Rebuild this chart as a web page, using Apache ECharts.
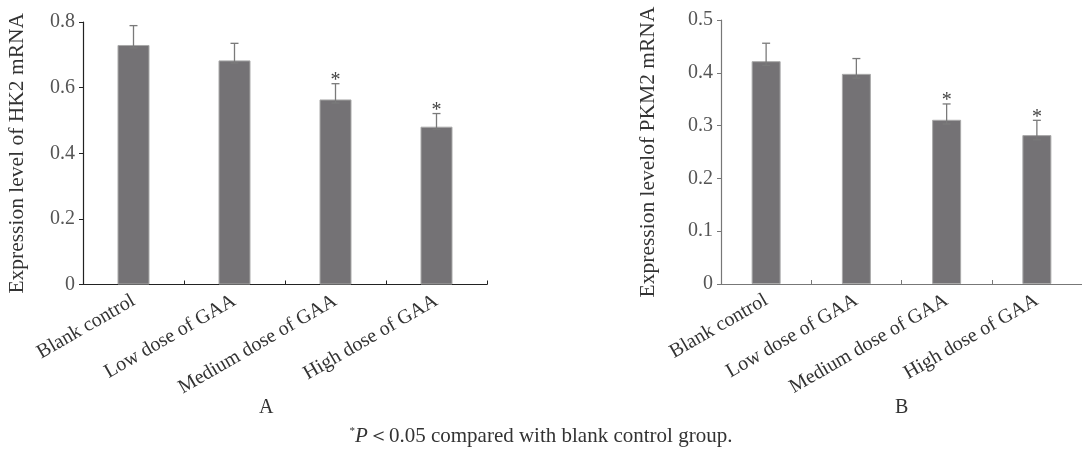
<!DOCTYPE html>
<html>
<head>
<meta charset="utf-8">
<script src="https://cdn.jsdelivr.net/npm/echarts@6/dist/echarts.min.js"></script>
<style>
  html, body { margin: 0; padding: 0; background: #fff; }
  #chart { width: 1082px; height: 454px; }
</style>
</head>
<body>
<div id="chart"></div>
<script>
// groups on the x axis
const groups = ['Blank control', 'Low dose of GAA', 'Medium dose of GAA', 'High dose of GAA']

// panel A, HK2 mRNA
const hk2Mean = [0.730, 0.683, 0.564, 0.481]
const hk2Upper = [0.789, 0.735, 0.612, 0.521]
const hk2Lower = [0.721, 0.675, 0.553, 0.473]

// panel B, PKM2 mRNA
const pkm2Mean = [0.422, 0.398, 0.311, 0.282]
const pkm2Upper = [0.456, 0.427, 0.341, 0.310]
const pkm2Lower = [0.414, 0.390, 0.303, 0.273]

// * marks, P < 0.05 vs blank control
const significant = [false, false, true, true]

const FONT = '"Liberation Serif", "DejaVu Serif", serif'
const BAR_COLOR = '#747275'

const chart = echarts.init(document.getElementById('chart'))

function xAxisFor(gridIndex, lineColor) {
  return {
    type: 'category',
    gridIndex,
    data: groups,
    axisLine: { lineStyle: { color: lineColor, width: 1.2 } },
    axisTick: { show: true, inside: true, length: 4, lineStyle: { color: lineColor } },
    axisLabel: {
      interval: 0,
      rotate: 30,
      margin: 15,
      color: '#333',
      fontFamily: FONT,
      fontSize: 20
    }
  }
}

function yAxisFor(gridIndex, name, max, interval, lineColor, gap) {
  return {
    type: 'value',
    gridIndex,
    min: 0,
    max,
    interval,
    name,
    nameLocation: 'middle',
    nameGap: gap,
    nameTextStyle: { color: '#333', fontFamily: FONT, fontSize: 21.5 },
    axisLine: { show: true, lineStyle: { color: lineColor, width: 1.2 } },
    axisTick: { show: true, length: 4, lineStyle: { color: lineColor } },
    splitLine: { show: false },
    axisLabel: {
      margin: 8,
      color: '#555',
      fontFamily: FONT,
      fontSize: 20,
      formatter: v => (v === 0 ? '0' : v.toFixed(1))
    }
  }
}

function barSeries(idx, data, width) {
  return {
    type: 'bar',
    xAxisIndex: idx,
    yAxisIndex: idx,
    data,
    barWidth: width,
    itemStyle: { color: BAR_COLOR, borderColor: '#a9a9a9', borderWidth: 1 }
  }
}

function errorSeries(idx, lower, upper) {
  return {
    type: 'custom',
    xAxisIndex: idx,
    yAxisIndex: idx,
    z: 5,
    data: groups.map((g, i) => [i, lower[i], upper[i], significant[i] ? 1 : 0]),
    renderItem(params, api) {
      const top = api.coord([api.value(0), api.value(2)])
      const bot = api.coord([api.value(0), api.value(1)])
      const cap = 4
      const style = { stroke: '#7a7a7a', lineWidth: 1.3 }
      const children = [
        { type: 'line', shape: { x1: top[0], y1: top[1], x2: bot[0], y2: bot[1] }, style },
        { type: 'line', shape: { x1: top[0] - cap, y1: top[1], x2: top[0] + cap, y2: top[1] }, style },
        { type: 'line', shape: { x1: bot[0] - cap, y1: bot[1], x2: bot[0] + cap, y2: bot[1] }, style }
      ]
      if (api.value(3)) {
        children.push({
          type: 'text',
          style: {
            text: '*',
            x: top[0],
            y: top[1] - 3,
            align: 'center',
            verticalAlign: 'middle',
            fill: '#444',
            fontFamily: FONT,
            fontSize: 20
          }
        })
      }
      return { type: 'group', children }
    }
  }
}

const option = {
  backgroundColor: '#fff',
  animation: false,
  grid: [
    { left: 83, top: 22, width: 404, height: 262.5 },
    { left: 721, top: 20, width: 368, height: 264 }
  ],
  xAxis: [xAxisFor(0, '#222'), xAxisFor(1, '#777')],
  yAxis: [
    yAxisFor(0, 'Expression level of HK2 mRNA', 0.8, 0.2, '#222', 55),
    yAxisFor(1, 'Expression levelof PKM2 mRNA', 0.5, 0.1, '#777', 62)
  ],
  series: [
    barSeries(0, hk2Mean, 32),
    errorSeries(0, hk2Lower, hk2Upper),
    barSeries(1, pkm2Mean, 29),
    errorSeries(1, pkm2Lower, pkm2Upper)
  ],
  graphic: [
    {
      type: 'text', left: 259, top: 398,
      style: { text: 'A', fill: '#333', fontFamily: FONT, fontSize: 20 }
    },
    {
      type: 'text', left: 895, top: 398,
      style: { text: 'B', fill: '#333', fontFamily: FONT, fontSize: 20 }
    },
    {
      type: 'text', left: 'center', top: 426,
      style: {
        text: '{s|*}{i|P}{n|＜0.05 compared with blank control group.}',
        fill: '#333',
        fontFamily: FONT,
        fontSize: 21,
        rich: {
          s: { fontSize: 11, verticalAlign: 'top', fill: '#333', fontFamily: FONT, padding: [0, 0, 9, 0] },
          i: { fontStyle: 'italic', fontSize: 21, fill: '#333', fontFamily: FONT },
          n: { fontSize: 21, fill: '#333', fontFamily: FONT }
        }
      }
    }
  ]
}

chart.setOption(option)
</script>
</body>
</html>
